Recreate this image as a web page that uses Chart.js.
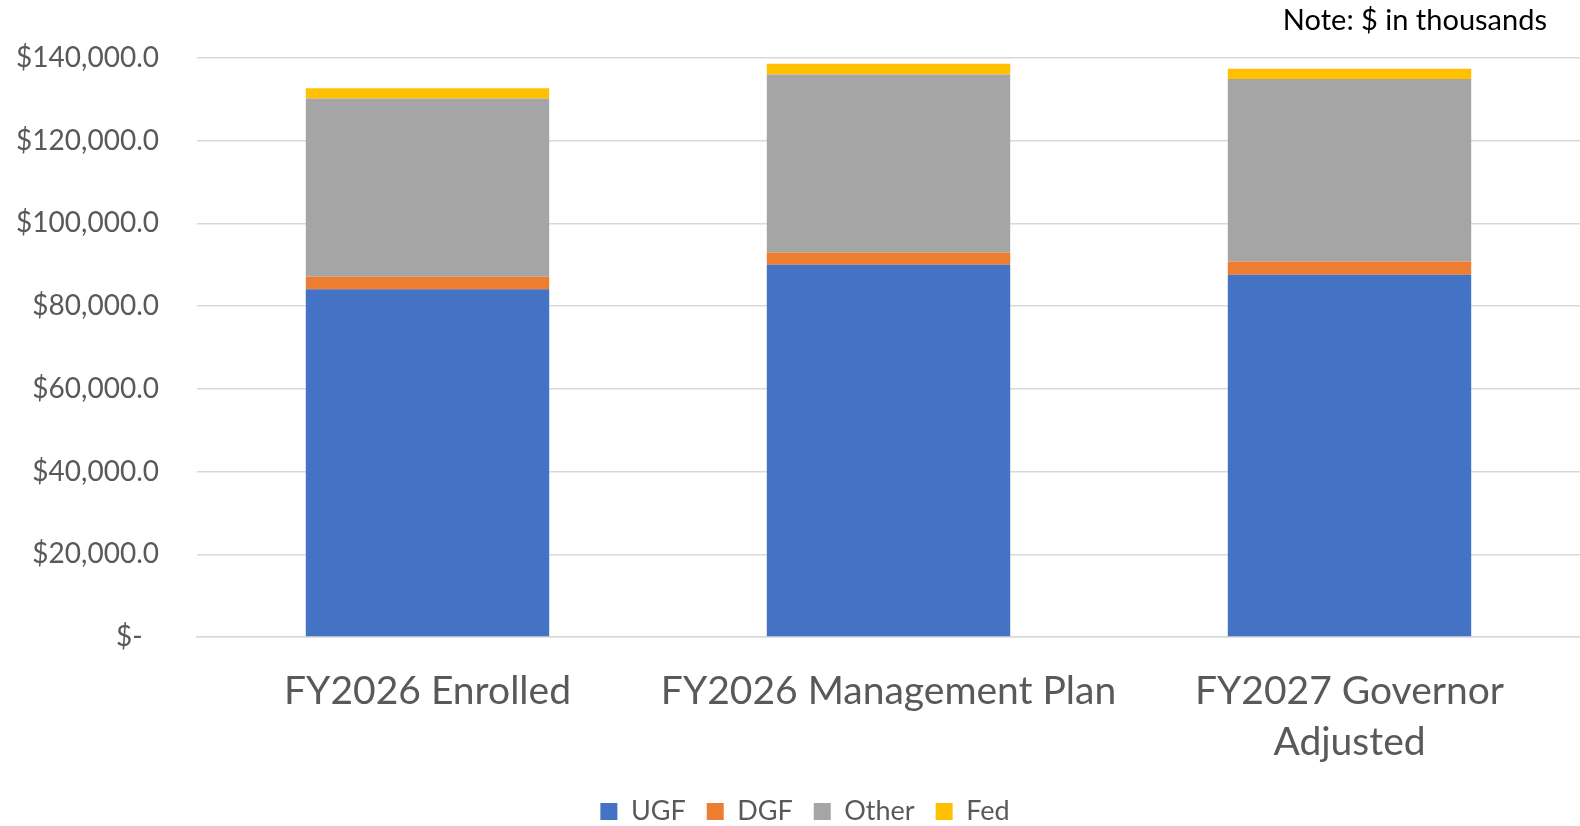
<!DOCTYPE html>
<html>
<head>
<meta charset="utf-8">
<script src="https://cdn.jsdelivr.net/npm/chart.js@4"></script>
<style>
  body { margin: 0; background: #fff; }
  #wrap { width: 1580px; height: 826px; }
</style>
</head>
<body>
<div id="wrap"><canvas id="chart" width="1580" height="826"></canvas></div>
<script>
// $ in thousands
var categories = ['FY2026 Enrolled', 'FY2026 Management Plan', ['FY2027 Governor', 'Adjusted']];
var ugf = [84100, 90000, 87600];
var dgf = [3000, 3000, 3200];
var other = [43100, 43000, 44100];
var fed = [2500, 2600, 2500];
var seriesNames = ['UGF', 'DGF', 'Other', 'Fed'];
var colours = ['#4472C4', '#ED7D31', '#A5A5A5', '#FFC000'];
var noteText = 'Note: $ in thousands';

var fontFamily = 'Lato, "Open Sans", sans-serif';

var notePlugin = {
    id: 'note',
    afterLayout: function(chart) {
        // legend sits a little right of centre in the original
        if (chart.legend) {
            chart.legend.left += 15;
            chart.legend.right += 15;
        }
    },
    afterDraw: function(chart) {
        let ctx = chart.ctx;
        ctx.save();
        ctx.font = '29px ' + fontFamily;
        ctx.fillStyle = '#000';
        ctx.textAlign = 'right';
        ctx.textBaseline = 'middle';
        ctx.fillText(noteText, chart.width - 33, 21);
        ctx.restore();
    }
};

function fmt(v) {
    if (v === 0) return '$-\u2007';
    return '$' + v.toLocaleString('en-US', { minimumFractionDigits: 1, maximumFractionDigits: 1 });
}

let ctx = document.getElementById('chart').getContext('2d');

new Chart(ctx, {
    type: 'bar',
    data: {
        labels: categories,
        datasets: [
            { label: seriesNames[0], data: ugf, backgroundColor: colours[0] },
            { label: seriesNames[1], data: dgf, backgroundColor: colours[1] },
            { label: seriesNames[2], data: other, backgroundColor: colours[2] },
            { label: seriesNames[3], data: fed, backgroundColor: colours[3] }
        ]
    },
    plugins: [notePlugin],
    options: {
        responsive: false,
        animation: false,
        layout: {
            padding: { top: 58, right: 0, bottom: -9, left: 0 }
        },
        datasets: {
            bar: {
                barPercentage: 0.528,
                categoryPercentage: 1,
                borderWidth: 0
            }
        },
        scales: {
            x: {
                stacked: true,
                afterFit: function(scale) { scale.height = 140; },
                grid: { display: false },
                border: { display: true, color: '#d9d9d9', width: 1.5 },
                ticks: {
                    color: '#595959',
                    padding: 20,
                    maxRotation: 0,
                    font: { family: fontFamily, size: 39, lineHeight: 1.33 }
                }
            },
            y: {
                stacked: true,
                min: 0,
                max: 140000,
                afterFit: function(scale) { scale.width = 197; },
                grid: { color: '#d9d9d9', lineWidth: 1.5, drawTicks: false },
                border: { display: false },
                ticks: {
                    stepSize: 20000,
                    color: '#595959',
                    padding: 38,
                    font: { family: fontFamily, size: 28 },
                    callback: function(v) { return fmt(v); }
                }
            }
        },
        plugins: {
            tooltip: { enabled: false },
            legend: {
                position: 'bottom',
                labels: {
                    color: '#595959',
                    boxWidth: 17,
                    boxHeight: 17,
                    padding: 21,
                    font: { family: fontFamily, size: 27 }
                }
            }
        }
    }
});
</script>
</body>
</html>
